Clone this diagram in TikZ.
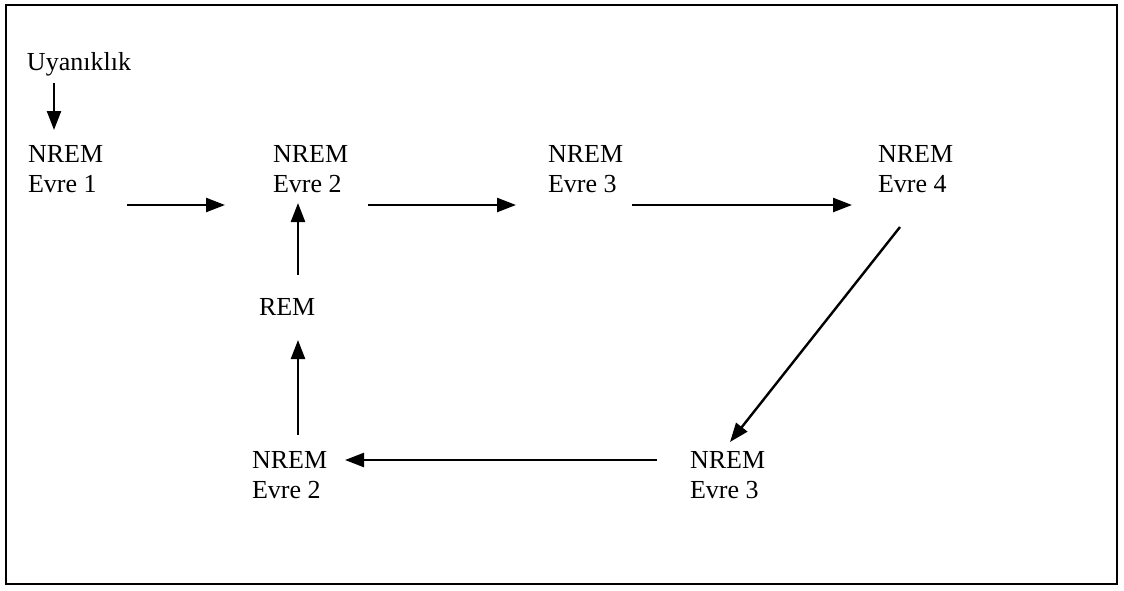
\documentclass[tikz,border=0pt]{standalone}
\usepackage{fontspec}
\setmainfont{Liberation Serif}
\usetikzlibrary{arrows.meta}
\begin{document}
\begin{tikzpicture}[x=1pt,y=-1pt,
  lbl/.style={inner sep=0pt,outer sep=0pt,anchor=base west,align=left,font=\fontsize{26}{30}\selectfont},
  arr/.style={line width=2.4pt,-{Triangle[length=19pt,width=14pt]}}]
\useasboundingbox (0,0) rectangle (1124,590);
\draw[line width=2.2pt] (6,5) rectangle (1117,584);
\node[lbl] (u) at (27,70) {Uyanıklık};
\node[lbl] (n1) at (28,192) {NREM\\Evre 1};
\node[lbl] (n2) at (273,192) {NREM\\Evre 2};
\node[lbl] (n3) at (548,192) {NREM\\Evre 3};
\node[lbl] (n4) at (878,192) {NREM\\Evre 4};
\node[lbl] (rem) at (259,315) {REM};
\node[lbl] (n3b) at (690,498) {NREM\\Evre 3};
\node[lbl] (n2b) at (252,498) {NREM\\Evre 2};
\draw[arr] ([shift={(27,13)}]u.base west) -- ([shift={(26,-62)}]n1.base west);
\draw[arr] ([shift={(99,13)}]n1.base west) -- ([shift={(-48,13)}]n2.base west);
\draw[arr] ([shift={(39,-40)}]rem.base west) -- ([shift={(25,11)}]n2.base west);
\draw[arr] ([shift={(46,-63)}]n2b.base west) -- ([shift={(39,25)}]rem.base west);
\draw[arr] ([shift={(95,13)}]n2.base west) -- ([shift={(-32,13)}]n3.base west);
\draw[arr] ([shift={(84,13)}]n3.base west) -- ([shift={(-26,13)}]n4.base west);
\draw[arr] ([shift={(22,35)}]n4.base west) -- ([shift={(40,-56)}]n3b.base west);
\draw[arr] ([shift={(-33,-38)}]n3b.base west) -- ([shift={(93,-38)}]n2b.base west);
\end{tikzpicture}
\end{document}
